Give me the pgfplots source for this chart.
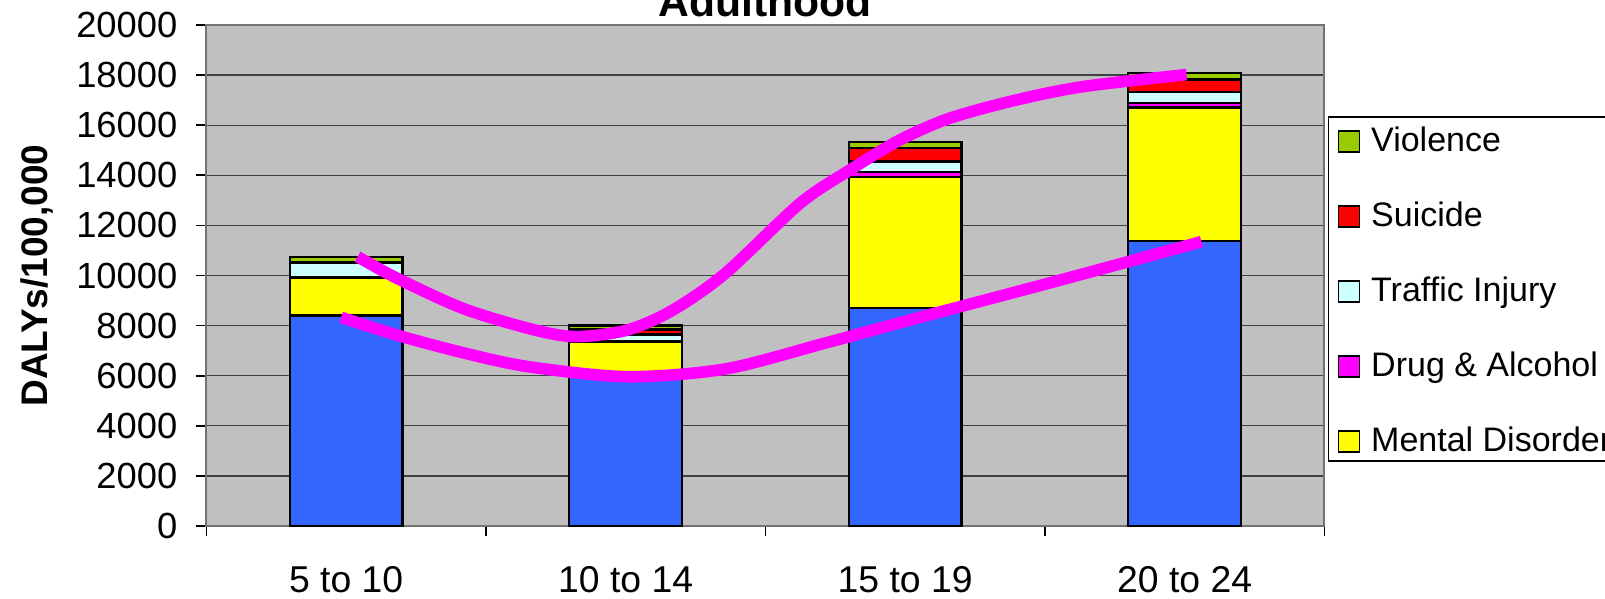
\documentclass[border=0pt]{standalone}
\usepackage{fontspec}
\setmainfont{Liberation Sans}
\usepackage{pgfplots}
\pgfplotsset{compat=1.18}
\definecolor{plotGray}{RGB}{192,192,192}
\definecolor{cBlue}{RGB}{51,102,255}
\definecolor{cYellow}{RGB}{255,255,0}
\definecolor{cMag}{RGB}{255,0,255}
\definecolor{cCyan}{RGB}{204,255,255}
\definecolor{cRed}{RGB}{255,0,0}
\definecolor{cGreen}{RGB}{153,204,0}

\pgfplotsset{
  sq/.style={legend image code/.code={\draw[##1,draw=black,line width=0.5pt] (0pt,-3.95pt) rectangle (6.3pt,2.35pt);}},
  seg/.style={fill=#1,draw=black,line width=0.7pt,sq},
}

\begin{document}
\begin{tikzpicture}
\begin{axis}[
  name=ax,
  scale only axis, width=335.4pt, height=150.3pt,
  ybar stacked, bar width=0.404,
  xmin=-0.5, xmax=3.5, ymin=0, ymax=20000,
  axis background/.style={fill=plotGray},
  axis line style={draw=black!55,line width=0.6pt},
  tick pos=left, tick align=outside, major tick length=3pt,
  tick style={black,line width=0.5pt},
  xtick={-0.5,0.5,...,3.5}, xticklabels={},
  extra x ticks={0,1,2,3},
  extra x tick labels={5 to 10,10 to 14,15 to 19,20 to 24},
  extra x tick style={major tick length=0pt},
  xticklabel style={font=\fontsize{11.2}{13}\selectfont, yshift=-8.7pt},
  ytick={0,2000,...,20000},
  scaled y ticks=false,
  yticklabel style={font=\fontsize{10.9}{13}\selectfont, xshift=-2.2pt, /pgf/number format/.cd, fixed, 1000 sep={}},
  /pgf/number format/assume math mode=true,
  ymajorgrids, major grid style={black!75,line width=0.4pt},
  ylabel={DALYs/100,000},
  ylabel style={font=\fontsize{11.1}{13}\selectfont\bfseries, at={(axis description cs:-0.152,0.5)}, anchor=center},
  title={Adulthood},
  title style={font=\fontsize{12.8}{15}\selectfont\bfseries, at={(axis description cs:0.5,1)}, anchor=base, yshift=-3.5pt, inner sep=0pt},
  reverse legend,
  legend cell align=left,
  legend style={at={(axis description cs:1,0.818)}, anchor=north west, xshift=1pt,
    draw=black, line width=0.5pt, fill=white, inner xsep=2.7pt, inner ysep=0pt,
    row sep=9.3pt, column sep=3.3pt,
    font=\fontsize{10.2}{12}\selectfont,
    nodes={inner sep=0pt, text height=10.2pt, text depth=3pt}},
]
% other causes (not in legend)
\addplot[seg=cBlue, forget plot] coordinates {(0,8400) (1,6150) (2,8690) (3,11390)};
\addplot[seg=cYellow] coordinates {(0,1500) (1,1200) (2,5250) (3,5310)};
\addlegendentry{Mental Disorder}
\addplot[seg=cMag] coordinates {(0,20) (1,40) (2,180) (3,180)};
\addlegendentry{Drug \& Alcohol}
\addplot[seg=cCyan] coordinates {(0,580) (1,260) (2,430) (3,440)};
\addlegendentry{Traffic Injury}
\addplot[seg=cRed] coordinates {(0,30) (1,200) (2,530) (3,510)};
\addlegendentry{Suicide}
\addplot[seg=cGreen] coordinates {(0,220) (1,160) (2,250) (3,250)};
\addlegendentry{Violence}
\end{axis}
% hand-drawn trend curves, overlaid on the bars
\begin{axis}[
  at={(ax.south west)}, anchor=south west,
  scale only axis, width=335.4pt, height=150.3pt,
  xmin=-0.5, xmax=3.5, ymin=0, ymax=20000,
  axis lines=none,
]
\addplot[smooth, draw=cMag, line width=3.5pt] coordinates {
  (0.041,10750) (0.182,9890) (0.417,8690) (0.652,7890) (0.817,7560)
  (1.005,7820) (1.169,8620) (1.357,10090) (1.624,12880) (1.802,14210)
  (1.981,15410) (2.160,16280) (2.399,17010) (2.637,17540) (3.007,18020)};
\addplot[smooth, draw=cMag, line width=3.5pt] coordinates {
  (-0.018,8330) (0.182,7620) (0.417,6920) (0.652,6360) (1.005,5960)
  (1.357,6270) (1.710,7290) (2.063,8360) (2.533,9750) (3.060,11350)};
\end{axis}
\pgfresetboundingbox
\path[use as bounding box] ([shift={(-61.92pt,-21.6pt)}]ax.south west) rectangle +(481.5pt,179.4pt);
\end{tikzpicture}
\end{document}
